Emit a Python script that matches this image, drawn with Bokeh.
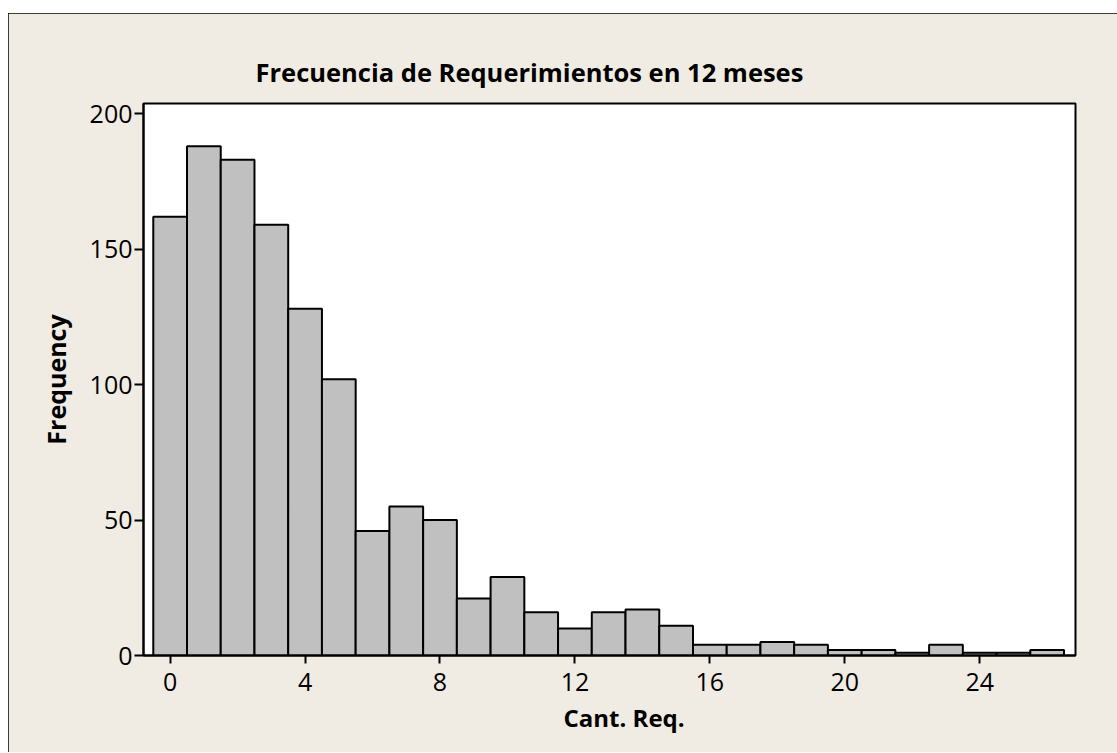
from bokeh.plotting import figure
from bokeh.models import Title, FixedTicker, ColumnDataSource
from bokeh.embed import file_html
from bokeh.resources import INLINE

# Data
bins = list(range(27))
counts = [162, 188, 183, 159, 128, 102, 46, 55, 50, 21, 29, 16, 10, 16, 17, 11,
          4, 4, 5, 4, 2, 2, 1, 4, 1, 1, 2]
x_ticks = [0, 4, 8, 12, 16, 20, 24]
y_ticks = [0, 50, 100, 150, 200]
title_text = "Frecuencia de Requerimientos en 12 meses"
x_label = "Cant. Req."
y_label = "Frequency"

BG = "#F0ECE3"
FONT = "Open Sans"

src = ColumnDataSource(dict(x=bins, top=counts))

p = figure(width=1109, height=739, x_range=(-0.79, 26.84), y_range=(0, 203.8),
           output_backend="svg", toolbar_location=None,
           min_border_left=135, min_border_right=42, min_border_top=90, min_border_bottom=97)
p.margin = (13, 0, 0, 8)
p.styles = {"box-shadow": "inset 1px 1px 0 black"}

p.vbar(x="x", top="top", width=1, bottom=0, source=src,
       fill_color="#C0C0C0", line_color="black", line_width=2)

p.background_fill_color = "white"
p.border_fill_color = BG
p.outline_line_color = "black"
p.outline_line_width = 2
p.grid.visible = False

p.title.text = title_text
p.title.align = "left"
p.title.offset = 112
p.title.standoff = 29
p.title.text_font = FONT
p.title.text_font_size = "25.5px"
p.title.text_font_style = "bold"
p.title.text_color = "black"

for ax in (p.xaxis[0], p.yaxis[0]):
    ax.axis_line_color = "black"
    ax.axis_line_width = 2
    ax.major_tick_line_color = "black"
    ax.major_tick_line_width = 2
    ax.major_tick_in = 0
    ax.minor_tick_line_color = None
    ax.major_label_text_font = FONT
    ax.major_label_text_font_size = "25px"
    ax.major_label_text_color = "black"

p.xaxis[0].ticker = FixedTicker(ticks=x_ticks)
p.yaxis[0].ticker = FixedTicker(ticks=y_ticks)
p.xaxis[0].major_tick_out = 8
p.yaxis[0].major_tick_out = 9
p.xaxis[0].major_label_standoff = 9
p.yaxis[0].major_label_standoff = 2

xt = Title(text=x_label, align="left", offset=420, standoff=10,
           text_font=FONT, text_font_size="24px", text_font_style="bold",
           text_color="black")
p.add_layout(xt, "below")
yt = Title(text=y_label, align="center", standoff=27,
           text_font=FONT, text_font_size="25px", text_font_style="bold",
           text_color="black")
p.add_layout(yt, "left")

open("out.html", "w").write(file_html(p, INLINE))
